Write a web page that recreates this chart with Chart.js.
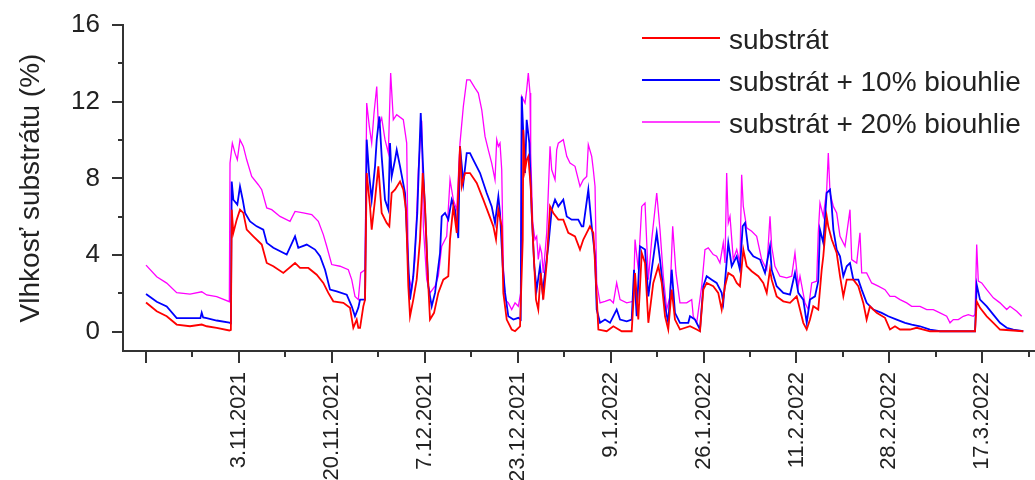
<!DOCTYPE html>
<html lang="sk">
<head>
<meta charset="UTF-8">
<title>Vlhkosť substrátu</title>
<script src="https://cdn.jsdelivr.net/npm/chart.js"></script>
<style>
    body { margin: 0; background: #fff; }
    #wrap { width: 1035px; height: 480px; }
</style>
</head>
<body>
<div id="wrap"><canvas id="graf" width="1035" height="480"></canvas></div>
<script>
// x = dni od prvej značky osi (17.10.2021), y = vlhkosť v %
const substratX = [0,1.93,3.73,5.53,7.93,10.04,10.94,12.74,15.02,15.3,
    15.45,15.74,16.35,16.94,17.54,18.15,19.34,20.86,21.76,22.95,
    24.75,26.86,27.76,29.26,30.77,31.96,32.86,33.76,35.57,36.77,
    37.37,37.98,38.27,38.58,39.17,39.48,39.78,40.38,40.68,41.28,
    41.88,42.48,43.38,43.86,44.28,44.88,45.79,46.38,46.87,47.28,
    47.59,48.18,48.79,49.39,49.88,50.3,50.71,51.19,51.92,52.69,
    53.59,54.49,54.8,55.39,56.01,56.6,56.91,57.5,58.4,59.61,
    60.8,61.7,62.61,63.09,63.51,64.12,64.41,65.02,65.92,66.52,
    67.42,67.91,68.01,68.32,68.62,68.91,69.34,69.81,70.3,70.71,
    71.14,71.61,72.23,72.83,73.42,74.32,75.22,76.12,77.33,78.23,
    78.83,79.44,80.03,80.63,80.94,81.54,83.04,84.24,85.75,87.55,
    88.15,88.74,89.36,89.95,90.55,91.44,92.35,92.96,93.56,94.14,
    94.76,95.35,96.25,98.06,99.27,99.86,100.46,101.07,102.25,103.15,
    103.77,104.37,104.96,105.86,106.48,107.06,107.67,108.28,109.18,110.37,
    111.27,111.89,112.48,112.78,113.68,114.88,116.09,117.29,117.89,118.48,
    119.1,119.69,120.28,121.18,121.8,122.09,122.7,122.99,123.61,124.5,
    125.1,125.7,126.31,127.5,128.4,129.3,129.9,130.5,131.71,133.21,
    134.11,135.01,135.92,137.71,138.92,141.32,149.44,149.74,150.34,151.55,
    152.74,153.94,158.14];
const substratY = [1.53,1.07,0.81,0.38,0.29,0.38,0.29,0.21,0.07,0.1,
    6.37,5.16,5.85,6.37,6.2,5.33,4.98,4.55,3.59,3.42,
    3.07,3.59,3.33,3.33,2.98,2.55,2.03,1.59,1.51,1.25,
    0.21,0.64,0.21,0.21,1.33,1.68,8.28,6.54,5.33,6.89,
    8.63,6.2,5.68,5.5,7.24,7.41,7.84,7.41,6.37,2.38,
    0.81,1.68,2.72,4.81,8.28,6.54,3.42,0.64,0.99,2.03,
    2.72,2.9,4.81,6.54,5.16,9.67,7.58,8.28,8.28,7.76,
    6.89,6.2,5.5,4.81,6.37,5.5,2.03,0.64,0.12,0.03,
    0.29,4.81,10.54,8.45,8.97,9.15,7.58,4.46,1.68,1.16,
    3.07,1.68,3.59,6.54,6.2,5.85,5.85,5.16,4.98,4.29,
    4.81,5.16,5.5,5.16,3.59,0.12,0.03,0.29,0.03,0.03,
    3.07,0.64,4.11,3.59,0.47,2.55,3.42,2.55,0.81,0.12,
    2.2,0.64,0.12,0.29,0.12,0.03,2.2,2.55,2.38,2.03,
    1.16,2.38,3.07,2.9,2.55,2.38,4.29,3.42,3.16,2.9,
    2.55,2.03,3.24,2.72,1.85,1.59,1.51,1.85,1.16,0.47,
    0.12,0.64,1.33,1.16,3.24,3.94,6.02,5.5,4.81,4.11,
    2.9,1.85,2.72,2.72,2.38,1.51,0.64,1.33,0.99,0.73,
    0.12,0.29,0.12,0.12,0.21,0.03,0.03,1.59,1.25,0.81,
    0.47,0.12,0.03];

const bio10X = [0,1.93,3.73,5.53,7.93,9.8,10.04,10.3,10.94,12.74,
    15.02,15.3,15.45,15.74,16.46,16.94,17.43,17.85,18.75,19.95,
    21.14,21.76,22.95,25.36,26.86,27.45,28.97,30.46,31.37,32.27,
    33.17,34.38,36.18,37.08,37.67,38.27,38.58,39.48,39.78,40.25,
    40.68,41.28,41.59,42.06,42.48,43.08,43.68,43.98,44.28,44.88,
    45.19,45.79,46.69,47.1,47.59,48.18,48.9,49.52,49.99,50.48,
    50.89,51.5,52.1,53.0,53.3,53.9,54.49,55.11,55.7,56.29,
    56.6,57.2,57.81,58.4,59.0,60.21,61.41,62.31,62.91,63.51,
    63.81,64.3,64.72,65.31,66.22,67.11,67.54,67.72,68.32,68.62,
    69.1,69.52,69.99,70.42,71.02,71.5,71.92,72.51,73.13,73.73,
    74.32,75.22,75.84,76.73,77.92,78.54,78.83,79.73,80.34,80.94,
    81.24,81.84,82.74,83.64,84.84,85.45,86.65,87.55,87.97,88.45,
    89.05,89.95,90.55,91.16,92.06,92.65,93.56,94.14,94.76,95.35,
    96.25,97.75,98.06,98.96,99.86,100.46,101.07,101.97,102.86,103.77,
    104.06,104.55,104.96,105.58,106.48,107.06,107.55,107.98,108.57,109.47,
    110.68,111.58,112.48,112.78,113.68,114.88,116.09,116.98,117.58,118.48,
    119.1,119.69,120.59,121.18,121.49,122.09,122.7,123.3,123.61,123.9,
    124.5,125.1,125.7,126.31,126.9,127.5,128.4,129.01,129.9,131.1,
    132.61,133.8,135.32,136.82,138.02,139.52,141.32,143.12,149.44,149.74,
    150.34,151.55,152.74,153.94,155.15,156.34,158.14];
const bio10Y = [1.97,1.57,1.32,0.71,0.71,0.71,1.0,0.75,0.71,0.59,
    0.48,0.45,7.84,6.89,6.63,7.58,6.89,6.2,5.76,5.5,
    5.33,4.64,4.38,4.03,4.98,4.38,4.55,4.29,3.94,3.24,
    2.2,2.11,1.94,1.33,0.81,1.25,1.68,1.68,10.02,8.1,
    6.89,8.63,10.02,11.23,9.15,6.89,6.37,9.84,8.1,8.97,
    9.49,8.63,7.24,4.64,1.68,2.9,6.2,11.41,8.28,5.16,
    2.38,1.33,2.03,4.11,6.02,6.2,5.85,6.89,6.37,4.89,
    9.67,7.76,9.32,9.32,8.97,8.28,7.24,6.54,5.68,7.06,
    6.2,3.42,2.03,0.81,0.64,0.73,0.64,12.27,8.28,11.06,
    9.84,6.2,3.42,2.2,3.42,2.03,3.07,4.46,6.37,6.89,
    6.54,6.89,6.02,5.85,5.85,5.5,5.5,7.41,5.5,3.94,
    1.16,0.47,0.64,0.47,1.16,0.64,0.55,0.64,3.24,0.81,
    4.46,4.29,1.85,3.24,5.16,3.77,1.33,0.47,3.24,0.99,
    0.47,0.47,0.81,0.64,0.12,2.38,2.9,2.72,2.55,2.03,
    1.51,3.24,4.64,3.42,3.94,3.24,5.5,5.68,4.29,3.94,
    3.77,3.07,4.46,3.24,2.38,2.03,1.94,3.07,2.03,1.68,
    0.47,1.68,1.85,2.64,5.33,4.64,7.24,7.41,6.54,5.33,
    4.29,3.94,2.9,3.42,3.59,2.72,2.72,2.2,1.51,1.16,
    0.99,0.81,0.64,0.47,0.38,0.29,0.12,0.03,0.03,2.46,
    1.68,1.33,0.9,0.47,0.21,0.12,0.03];

const bio20X = [0,1.93,3.73,5.53,7.93,10.04,10.94,12.74,15.02,15.14,
    15.56,16.04,16.46,16.94,17.54,18.15,19.05,20.24,20.86,21.76,
    22.66,24.15,25.96,26.86,28.35,29.87,31.06,31.96,32.57,33.47,
    34.97,36.47,37.08,37.67,38.27,38.7,39.48,39.78,40.25,40.68,
    41.1,41.59,41.88,42.48,43.08,43.68,44.1,44.58,45.19,46.38,
    46.99,47.28,47.89,48.49,49.08,49.7,49.99,50.6,51.19,52.1,
    52.69,53.3,54.2,54.8,55.39,56.01,56.6,57.2,57.81,58.4,
    59.31,59.9,60.52,61.11,61.7,62.31,62.91,63.22,63.51,63.81,
    64.12,64.41,64.72,65.31,65.92,66.52,67.11,67.54,67.72,68.32,
    68.62,68.91,69.22,69.34,69.71,70.12,70.42,70.71,71.02,71.32,
    71.61,72.23,72.51,72.83,73.13,73.73,74.03,74.32,75.22,75.84,
    76.43,77.33,78.23,78.83,79.44,79.73,80.34,80.63,80.94,81.24,
    81.84,82.74,83.64,84.24,84.84,85.45,86.65,87.84,88.15,88.74,
    89.36,89.95,90.55,91.16,92.06,92.65,93.25,93.86,94.45,94.94,
    95.53,96.25,97.46,98.37,98.65,99.27,100.17,100.76,101.35,102.25,
    102.86,103.46,104.06,104.37,104.67,104.96,105.27,105.86,106.48,107.06,
    107.37,107.67,108.28,109.18,110.08,110.98,111.89,112.48,112.78,113.37,
    114.27,115.49,116.39,116.98,117.58,117.89,118.78,119.39,120.0,120.89,
    121.18,121.49,122.09,122.7,122.99,123.3,123.9,124.5,125.1,126.0,
    126.9,127.21,128.11,128.7,129.01,129.9,130.8,132.0,133.21,134.11,
    135.01,135.92,137.12,138.02,139.52,140.73,141.92,143.12,144.33,144.93,
    145.53,146.43,147.33,148.23,149.13,149.44,149.74,150.03,150.64,151.55,
    152.74,153.94,155.15,155.74,156.95,157.85];
const bio20Y = [3.48,2.87,2.54,2.04,1.97,2.09,1.92,1.83,1.57,8.8,
    9.84,9.32,8.97,10.02,9.67,8.97,8.1,7.67,7.41,6.46,
    6.37,6.02,5.76,6.28,6.2,6.11,5.76,5.07,4.46,3.51,
    3.42,3.24,2.72,1.85,1.68,3.07,3.24,11.93,10.71,9.84,
    11.41,12.79,10.71,11.15,10.02,9.32,13.49,11.06,11.32,11.06,
    9.84,3.07,2.2,3.77,8.45,11.0,5.5,2.72,2.03,2.38,
    2.9,4.46,4.98,7.93,6.89,6.37,9.84,11.75,13.14,13.14,
    12.71,12.45,11.58,10.19,9.49,8.8,7.93,10.02,9.67,9.84,
    8.45,3.42,1.68,1.51,1.16,1.51,1.33,2.03,12.27,11.93,
    12.62,13.49,12.45,9.32,5.68,4.81,4.98,3.77,4.46,4.11,
    3.07,5.16,7.24,9.67,8.45,7.93,9.49,9.84,10.02,9.15,
    8.8,8.63,7.58,7.93,8.1,9.76,9.15,8.45,7.58,2.55,
    1.51,1.59,1.68,1.51,2.55,1.68,1.51,1.59,4.81,3.24,
    6.54,6.72,2.72,4.81,7.24,5.33,2.9,1.16,1.85,5.5,
    3.07,1.51,1.51,1.68,0.81,0.47,2.38,4.29,4.38,4.03,
    3.94,3.59,4.64,3.59,8.28,5.68,6.02,3.77,4.29,3.59,
    8.19,6.54,5.42,5.24,4.98,3.77,3.24,6.02,4.46,3.42,
    2.9,2.81,2.9,4.11,2.38,2.9,1.51,1.16,2.55,2.64,
    5.16,6.72,6.02,7.41,9.32,7.24,6.54,6.2,4.98,4.46,
    6.37,3.77,3.59,5.16,3.07,3.07,2.55,2.38,2.2,1.85,
    1.85,1.68,1.51,1.33,1.33,1.16,1.16,0.99,0.81,0.47,
    0.64,0.64,0.81,0.9,0.81,0.9,4.55,2.64,2.55,2.2,
    1.77,1.51,1.16,1.33,1.07,0.81];

// značky osi x (každých 16,75 dňa) a ich popisy
const tickDays = [0, 16.75, 33.5, 50.25, 67, 83.75, 100.5, 117.25, 134, 150.75];
const tickLabels = ['', '3.11.2021', '20.11.2021', '7.12.2021', '23.12.2021',
    '9.1.2022', '26.1.2022', '11.2.2022', '28.2.2022', '17.3.2022'];
const yTicks = [0, 4, 8, 12, 16];

const axisColor = '#333';
const fontFamily = '"Liberation Sans", Arial, sans-serif';

function toPoints(xs, ys) {
    return xs.map((x, i) => ({ x: x, y: ys[i] }));
}

// hlavné a vedľajšie značky na osiach
const tickMarks = {
    id: 'tickMarks',
    afterDraw(chart) {
        const ctx = chart.ctx;
        const sx = chart.scales.x, sy = chart.scales.y;
        const halfStep = (tickDays[1] - tickDays[0]) / 2;
        ctx.save();
        ctx.strokeStyle = axisColor;
        ctx.lineWidth = 2;
        ctx.beginPath();
        tickDays.forEach(d => {
            const p = Math.round(sx.getPixelForValue(d));
            ctx.moveTo(p, sx.top); ctx.lineTo(p, sx.top + 12);
            const m = d + halfStep;
            if (m <= sx.max) {
                const pm = Math.round(sx.getPixelForValue(m));
                ctx.moveTo(pm, sx.top); ctx.lineTo(pm, sx.top + 6);
            }
        });
        yTicks.forEach((v, i) => {
            const p = Math.round(sy.getPixelForValue(v));
            ctx.moveTo(sy.right, p); ctx.lineTo(sy.right - 11, p);
            if (i < yTicks.length - 1) {
                const pm = Math.round(sy.getPixelForValue(v + 2));
                ctx.moveTo(sy.right, pm); ctx.lineTo(sy.right - 5, pm);
            }
        });
        ctx.stroke();
        ctx.restore();
    }
};

// legenda vpravo hore
const legendLines = {
    id: 'legendLines',
    afterDraw(chart) {
        const ctx = chart.ctx;
        ctx.save();
        ctx.font = '28px ' + fontFamily;
        ctx.textBaseline = 'alphabetic';
        chart.data.datasets.forEach((ds, i) => {
            const y = 38 + i * 42;
            ctx.strokeStyle = ds.borderColor;
            ctx.lineWidth = ds.legendWidth;
            ctx.beginPath();
            ctx.moveTo(642, y);
            ctx.lineTo(720, y);
            ctx.stroke();
            ctx.fillStyle = '#222';
            ctx.fillText(ds.label, 729, y + 11);
        });
        ctx.restore();
    }
};

new Chart(document.getElementById('graf'), {
    type: 'line',
    data: {
        datasets: [
            { label: 'substrát', data: toPoints(substratX, substratY),
              borderColor: '#ff0000', borderWidth: 1.8, legendWidth: 2 },
            { label: 'substrát + 10% biouhlie', data: toPoints(bio10X, bio10Y),
              borderColor: '#0000ff', borderWidth: 1.8, legendWidth: 2 },
            { label: 'substrát + 20% biouhlie', data: toPoints(bio20X, bio20Y),
              borderColor: '#ff00ff', borderWidth: 1.3, legendWidth: 1.4 }
        ]
    },
    options: {
        responsive: false,
        animation: false,
        devicePixelRatio: 1,
        layout: { padding: { top: 25, right: 0, bottom: 0, left: 0 } },
        elements: { point: { radius: 0 }, line: { tension: 0 } },
        plugins: { legend: { display: false }, tooltip: { enabled: false } },
        scales: {
            x: {
                type: 'linear',
                min: -4.15,
                max: 160.25,
                afterBuildTicks: s => { s.ticks = tickDays.map(v => ({ value: v })); },
                afterFit: s => { s.height = 129; },
                // značky kreslí plugin, tickLength slúži len ako odstup popisov
                grid: { display: false, drawTicks: true, tickLength: 21 },
                border: { display: true, color: axisColor, width: 2 },
                ticks: {
                    autoSkip: false,
                    maxRotation: 90,
                    minRotation: 90,
                    padding: 0,
                    color: '#222',
                    font: { family: fontFamily, size: 22 },
                    callback: (v, i) => tickLabels[i]
                }
            },
            y: {
                min: -1,
                max: 16,
                afterBuildTicks: s => { s.ticks = yTicks.map(v => ({ value: v })); },
                afterFit: s => { s.width = 123; },
                grid: { display: false, drawTicks: true, tickLength: 23 },
                border: { display: true, color: axisColor, width: 2 },
                ticks: {
                    padding: 0,
                    color: '#222',
                    font: { family: fontFamily, size: 26 }
                },
                title: {
                    display: true,
                    text: 'Vlhkosť substrátu (%)',
                    color: '#222',
                    font: { family: fontFamily, size: 28 },
                    padding: { top: 14, bottom: 0 }
                }
            }
        }
    },
    plugins: [tickMarks, legendLines]
});
</script>
</body>
</html>
